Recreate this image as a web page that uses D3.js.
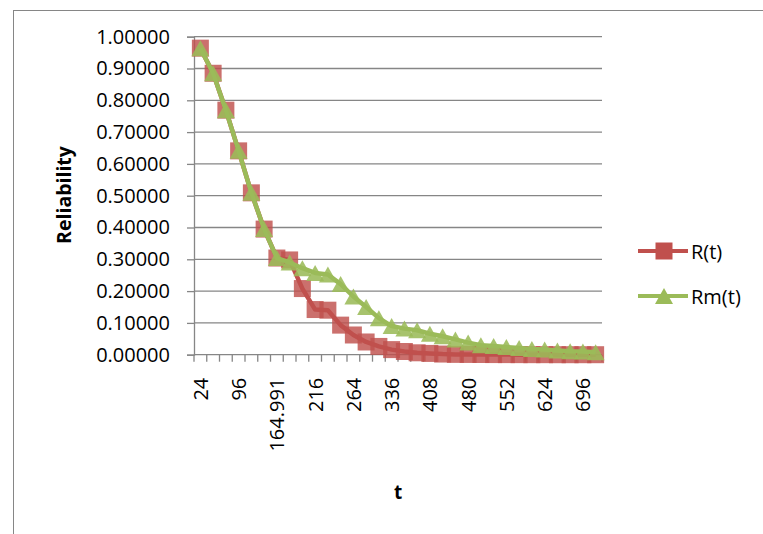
<!DOCTYPE html>
<html>
<head>
<meta charset="utf-8">
<script src="https://d3js.org/d3.v7.min.js"></script>
<style>
  body { margin: 0; background: #fff; overflow: hidden; }
  svg { display: block; }
  text { font-family: "Open Sans", sans-serif; fill: #000; }
</style>
</head>
<body>
<svg id="chart" width="763" height="534"></svg>
<script>
// categories on the t axis (only every third one gets a label)
const tLabels = ["24", "48", "72", "96", "120", "144", "164.991", "168", "192", "216",
  "218", "240", "264", "288", "312", "336", "360", "384", "408", "432", "456", "480",
  "504", "528", "552", "576", "600", "624", "648", "672", "696", "720"];

// R(t)
const rValues = [0.964, 0.885, 0.769, 0.641, 0.509, 0.395, 0.304, 0.298, 0.208, 0.142,
  0.140, 0.093, 0.062, 0.040, 0.026, 0.016, 0.010, 0.006, 0.004, 0.002, 0.001, 0.0008,
  0.0006, 0.0004, 0.0003, 0.0002, 0.0001, 0.0001, 0, 0, 0, 0];

// Rm(t)
const rmValues = [0.964, 0.885, 0.769, 0.641, 0.509, 0.395, 0.304, 0.290, 0.272, 0.257,
  0.252, 0.222, 0.183, 0.150, 0.115, 0.090, 0.082, 0.077, 0.066, 0.058, 0.048, 0.038,
  0.030, 0.027, 0.024, 0.021, 0.018, 0.016, 0.013, 0.011, 0.010, 0.008];

const yTicks = [0, 0.1, 0.2, 0.3, 0.4, 0.5, 0.6, 0.7, 0.8, 0.9, 1.0];
const seriesNames = ["R(t)", "Rm(t)"];

const svg = d3.select("#chart");
const axisColor = "#868686";
const plot = { left: 194, right: 602, top: 36.7, bottom: 354.7 };

// outer chart border (only left and top are inside the window)
svg.append("rect")
  .attr("x", 13.5).attr("y", 10.5)
  .attr("width", 800).attr("height", 600)
  .attr("fill", "none").attr("stroke", axisColor);

const x = d3.scaleBand().domain(tLabels).range([plot.left, plot.right]).padding(0);
const y = d3.scaleLinear().domain([0, 1]).range([plot.bottom, plot.top]);
const cx = (d, i) => x(tLabels[i]) + x.bandwidth() / 2;

// gridlines
svg.append("g").selectAll("line").data(yTicks.slice(1))
  .join("line")
  .attr("x1", plot.left).attr("x2", plot.right)
  .attr("y1", d => y(d)).attr("y2", d => y(d))
  .attr("stroke", axisColor).attr("stroke-width", 1.3);

// y axis
const yAxis = svg.append("g")
  .attr("transform", "translate(" + plot.left + ",0)")
  .call(d3.axisLeft(y).tickValues(yTicks).tickFormat(d3.format(".5f")).tickSize(7).tickPadding(17));
yAxis.selectAll("path, line").attr("stroke", axisColor).attr("stroke-width", 1.3);
yAxis.selectAll("text").style("font-size", "20px").style("font-family", "Open Sans");

// x axis, ticks between categories
const xAxis = svg.append("g")
  .attr("transform", "translate(0," + plot.bottom + ")");
xAxis.append("line")
  .attr("x1", plot.left).attr("x2", plot.right)
  .attr("stroke", axisColor).attr("stroke-width", 1.3);
xAxis.selectAll("line.tick").data(tLabels.concat(["end"]))
  .join("line")
  .attr("class", "tick")
  .attr("x1", (d, i) => plot.left + i * x.bandwidth())
  .attr("x2", (d, i) => plot.left + i * x.bandwidth())
  .attr("y1", 0).attr("y2", 7)
  .attr("stroke", axisColor).attr("stroke-width", 1.3);
xAxis.selectAll("text").data(tLabels.filter((d, i) => i % 3 == 0))
  .join("text")
  .attr("transform", d => "translate(" + (x(d) + x.bandwidth() / 2) + ",23) rotate(-90)")
  .attr("text-anchor", "end")
  .attr("dominant-baseline", "central")
  .style("font-size", "20px")
  .text(d => d);

// axis titles
svg.append("text")
  .attr("transform", "translate(63,195) rotate(-90)")
  .attr("text-anchor", "middle").attr("dominant-baseline", "central")
  .style("font-size", "19.5px").style("font-weight", "bold")
  .text("Reliability");
svg.append("text")
  .attr("x", 398).attr("y", 492)
  .attr("text-anchor", "middle").attr("dominant-baseline", "central")
  .style("font-size", "19px").style("font-weight", "bold")
  .text("t");

const line = d3.line().x(cx).y(d => y(d)).curve(d3.curveLinear);
const squarePath = "M-8.5,-8.5H8.5V8.5H-8.5Z";
const trianglePath = "M0,-8L9,8H-9Z";

// R(t)
svg.append("path").datum(rValues)
  .attr("d", line).attr("fill", "none")
  .attr("stroke", "#C0504D").attr("stroke-width", 4.5).attr("stroke-linejoin", "round");
svg.append("g").selectAll("path").data(rValues)
  .join("path")
  .attr("d", squarePath)
  .attr("transform", (d, i) => "translate(" + cx(d, i) + "," + y(d) + ")")
  .attr("fill", "#C0504D").attr("fill-opacity", 0.82);

// Rm(t)
svg.append("path").datum(rmValues)
  .attr("d", line).attr("fill", "none")
  .attr("stroke", "#9BBB59").attr("stroke-width", 4.5).attr("stroke-linejoin", "round");
svg.append("g").selectAll("path").data(rmValues)
  .join("path")
  .attr("d", trianglePath)
  .attr("transform", (d, i) => "translate(" + cx(d, i) + "," + y(d) + ")")
  .attr("fill", "#9BBB59").attr("fill-opacity", 0.88);

// legend
const legend = svg.append("g");
const legendY = [251, 296];
const legendColors = ["#C0504D", "#9BBB59"];
const legendMarks = [squarePath, trianglePath];
seriesNames.forEach((name, i) => {
  legend.append("line")
    .attr("x1", 638).attr("x2", 688)
    .attr("y1", legendY[i]).attr("y2", legendY[i])
    .attr("stroke", legendColors[i]).attr("stroke-width", 4);
  legend.append("path")
    .attr("d", legendMarks[i])
    .attr("transform", "translate(664," + legendY[i] + ")")
    .attr("fill", legendColors[i]);
  legend.append("text")
    .attr("x", 691).attr("y", legendY[i])
    .attr("dominant-baseline", "central")
    .style("font-size", "20px")
    .text(name);
});
</script>
</body>
</html>
